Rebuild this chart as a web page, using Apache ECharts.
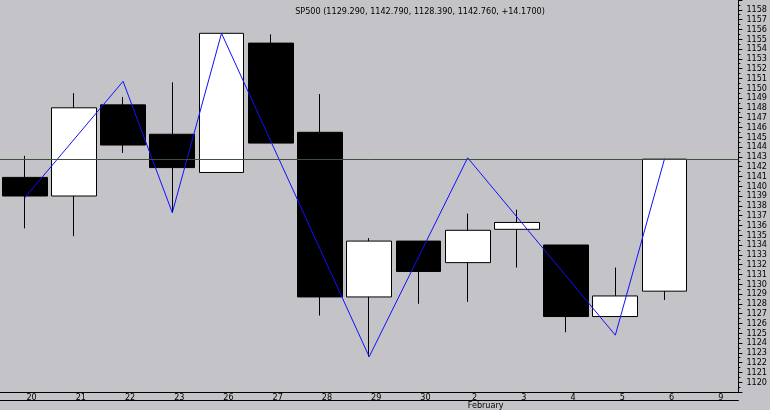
<!DOCTYPE html>
<html>
<head>
<meta charset="utf-8">
<script src="https://cdn.jsdelivr.net/npm/echarts@6/dist/echarts.min.js"></script>
<style>html,body{margin:0;padding:0;background:#c4c3c7}#main{width:770px;height:410px}</style>
</head>
<body>
<div id="main"></div>
<script>
var days = ['20', '21', '22', '23', '26', '27', '28', '29', '30', '2', '3', '4', '5', '6', '9'];
// [open, close, low, high]
var candles = [
  [1140.9, 1139.0, 1135.7, 1143.1],
  [1139.0, 1148.0, 1134.9, 1149.5],
  [1148.3, 1144.2, 1143.4, 1149.1],
  [1145.3, 1141.9, 1137.3, 1150.6],
  [1141.4, 1155.6, 1141.4, 1155.6],
  [1154.6, 1144.4, 1144.4, 1155.5],
  [1145.5, 1128.7, 1126.8, 1149.4],
  [1128.7, 1134.4, 1122.6, 1134.7],
  [1134.4, 1131.3, 1128.0, 1134.4],
  [1132.2, 1135.5, 1128.2, 1137.2],
  [1135.6, 1136.3, 1131.7, 1137.6],
  [1134.0, 1126.7, 1125.1, 1134.0],
  [1126.7, 1128.8, 1126.7, 1131.7],
  [1129.29, 1142.76, 1128.39, 1142.79],
  '-'
];
var zigzag = [1138.8, '-', 1150.7, 1137.3, 1155.6, '-', '-', 1122.6, '-', 1142.9, '-', '-', 1124.8, 1142.8, '-'];
var lastClose = 1142.76;
var monthLabels = ['', '', '', '', '', '', '', '', '', 'February', '', '', '', '', ''];

var font = '"Liberation Sans Narrow", "DejaVu Sans Condensed", sans-serif';
var chart = echarts.init(document.getElementById('main'));
chart.setOption({
  backgroundColor: '#c4c3c7',
  animation: false,
  title: {
    text: 'SP500 (1129.290, 1142.790, 1128.390, 1142.760, +14.1700)',
    left: 415, top: 2, textAlign: 'center',
    textStyle: {fontSize: 9, fontWeight: 'normal', color: '#000', fontFamily: font}
  },
  grid: {left: 0, right: 31, top: -2, height: 395},
  xAxis: [{
    type: 'category', data: days, boundaryGap: true,
    axisLine: {lineStyle: {color: '#000'}},
    axisTick: {alignWithLabel: true, length: 4, lineStyle: {color: '#000'}},
    axisLabel: {color: '#000', fontSize: 9, fontFamily: font, margin: 1, padding: [0, 0, 0, 14]},
    splitLine: {show: false}
  }, {
    type: 'category', data: monthLabels, position: 'bottom', offset: 8, boundaryGap: true,
    axisLine: {lineStyle: {color: '#000'}},
    axisTick: {alignWithLabel: true, length: 8, inside: true, interval: function (i) { return i === 9; }, lineStyle: {color: '#000'}},
    axisLabel: {color: '#000', fontSize: 9, fontFamily: font, margin: 1, padding: [0, 0, 0, 36], interval: 0}
  }],
  yAxis: {
    type: 'value', position: 'right', min: 1119, max: 1159, interval: 1,
    axisLine: {show: true, lineStyle: {color: '#000'}},
    axisTick: {show: true, length: 4, lineStyle: {color: '#000'}},
    minorTick: {show: true, splitNumber: 2, length: 2, lineStyle: {color: '#000'}},
    axisLabel: {color: '#000', fontSize: 9, fontFamily: font, margin: 8, showMinLabel: false, showMaxLabel: false,
      formatter: function (v) { return String(v); }},
    splitLine: {show: false}
  },
  series: [{
    type: 'candlestick', data: candles, barWidth: '92%',
    itemStyle: {color: '#fff', color0: '#000', borderColor: '#000', borderColor0: '#000', borderWidth: 1},
    markLine: {
      symbol: 'none', silent: true, label: {show: false},
      lineStyle: {color: '#3d4f3d', width: 1, type: 'solid'},
      data: [{yAxis: lastClose}]
    }
  }, {
    type: 'line', data: zigzag, connectNulls: true, symbol: 'none',
    lineStyle: {color: '#1010ff', width: 1}
  }]
});
</script>
</body>
</html>
